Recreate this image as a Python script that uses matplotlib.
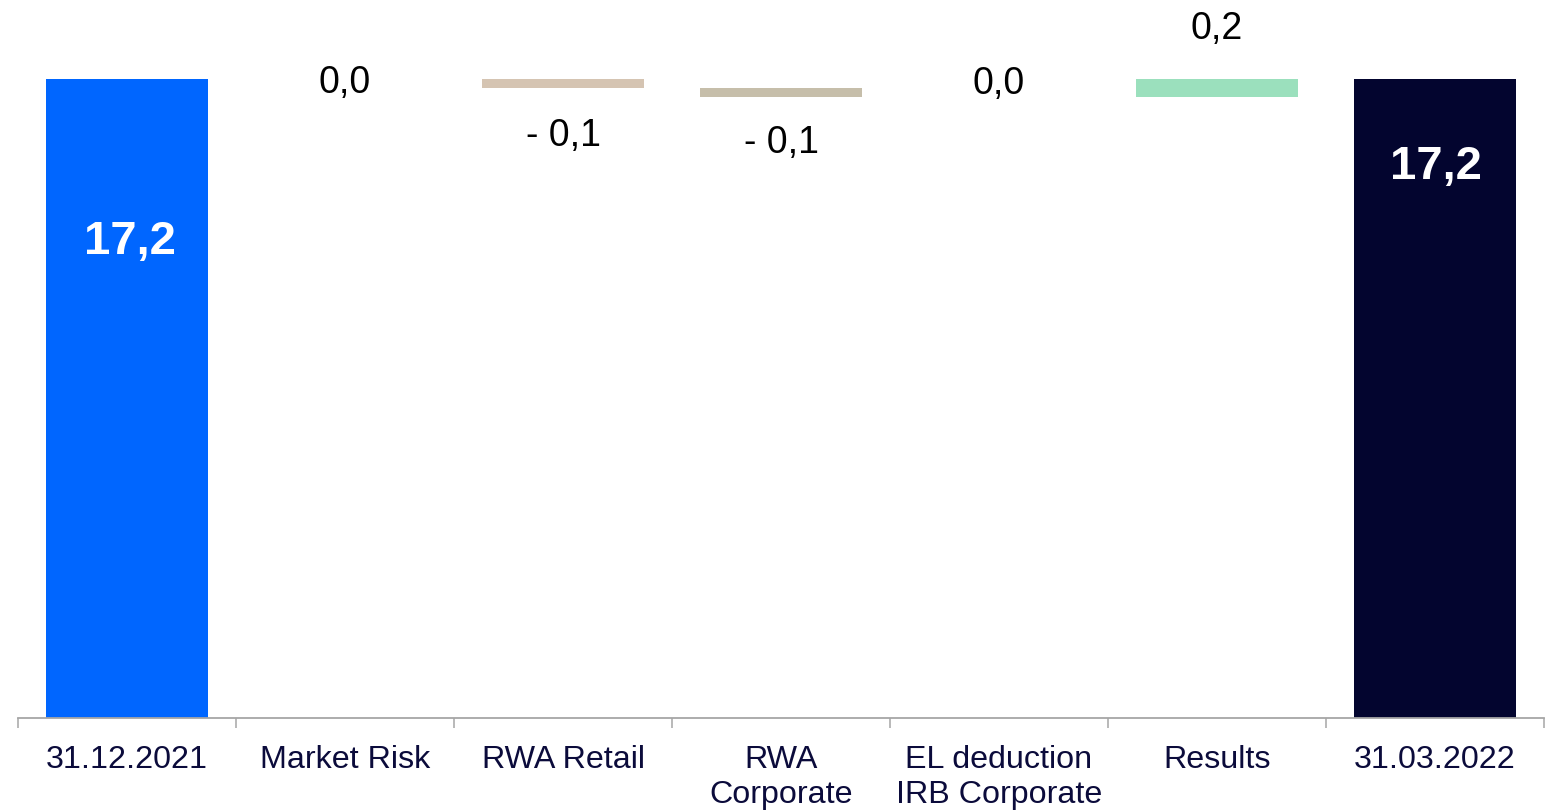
import matplotlib
matplotlib.use("Agg")
import matplotlib.pyplot as plt
import numpy as np

plt.rcParams['font.family'] = ['Liberation Sans', 'DejaVu Sans']

categories = ["31.12.2021", "Market Risk", "RWA Retail", "RWA\nCorporate",
              "EL deduction\nIRB Corporate", "Results", "31.03.2022"]
start_value = 17.2
changes = [0.0, -0.1, -0.1, 0.0, 0.2]
end_value = 17.2
labels = ["17,2", "0,0", "- 0,1", "- 0,1", "0,0", "0,2", "17,2"]

bar_colors = ["#0066FF", "#FFFFFF", "#D5C4B2", "#C6BEAA", "#FFFFFF", "#9BE0BD", "#03052F"]

W, H = 1555, 812
fig = plt.figure(figsize=(W / 100, H / 100), dpi=100)
ax = fig.add_axes([18 / W, (H - 719) / H, (1544 - 18) / W, (719 - 80) / H])

x = np.arange(len(categories))
bar_w = 0.74

# waterfall levels
levels = np.concatenate([[start_value], start_value + np.cumsum(changes)])
bottoms = [0.0]
heights = [start_value]
for i, c in enumerate(changes):
    prev = levels[i]
    bottoms.append(min(prev, prev + c))
    heights.append(abs(c))
bottoms.append(0.0)
heights.append(end_value)

ax.bar(x, heights, bottom=bottoms, width=bar_w, color=bar_colors, linewidth=0, zorder=2)

ymin = 10.0
ax.set_ylim(ymin, start_value)
ax.set_xlim(-0.5, len(categories) - 0.5)

# value labels
val_color = "#000000"
# totals: white bold inside the bars
ax.annotate(labels[0], (x[0], start_value), xytext=(3, -162), textcoords="offset pixels",
            ha="center", va="center", fontsize=34, fontweight="bold", color="white",
            annotation_clip=False)
ax.annotate(labels[-1], (x[-1], end_value), xytext=(1, -87), textcoords="offset pixels",
            ha="center", va="center", fontsize=34, fontweight="bold", color="white",
            annotation_clip=False)

offsets = [-3, -47, -45, 14, 51]
for i, c in enumerate(changes):
    k = i + 1
    if c > 0:
        anchor = bottoms[k] + heights[k]
    elif c < 0:
        anchor = bottoms[k]
    else:
        anchor = levels[i]
    ax.annotate(labels[k], (x[k], anchor), xytext=(0, offsets[i]), textcoords="offset pixels",
                ha="center", va="center", fontsize=27, color=val_color,
                annotation_clip=False)

# axes styling
for s in ["top", "right", "left"]:
    ax.spines[s].set_visible(False)
ax.spines["bottom"].set_color("#A6A6A6")
ax.spines["bottom"].set_linewidth(1.3)
ax.set_yticks([])

ax.set_xticks(np.arange(len(categories) + 1) - 0.5)
ax.set_xticklabels([])
ax.tick_params(axis="x", which="major", length=7.5, width=1.1, color="#A6A6A6", direction="out")
ax.set_xticks(x, minor=True)
ax.set_xticklabels(categories, minor=True, fontsize=23.2, color="#0B0B3B", linespacing=1.2)
ax.tick_params(axis="x", which="minor", length=0, pad=19)

fig.savefig("out.png", dpi=100, facecolor="white")
